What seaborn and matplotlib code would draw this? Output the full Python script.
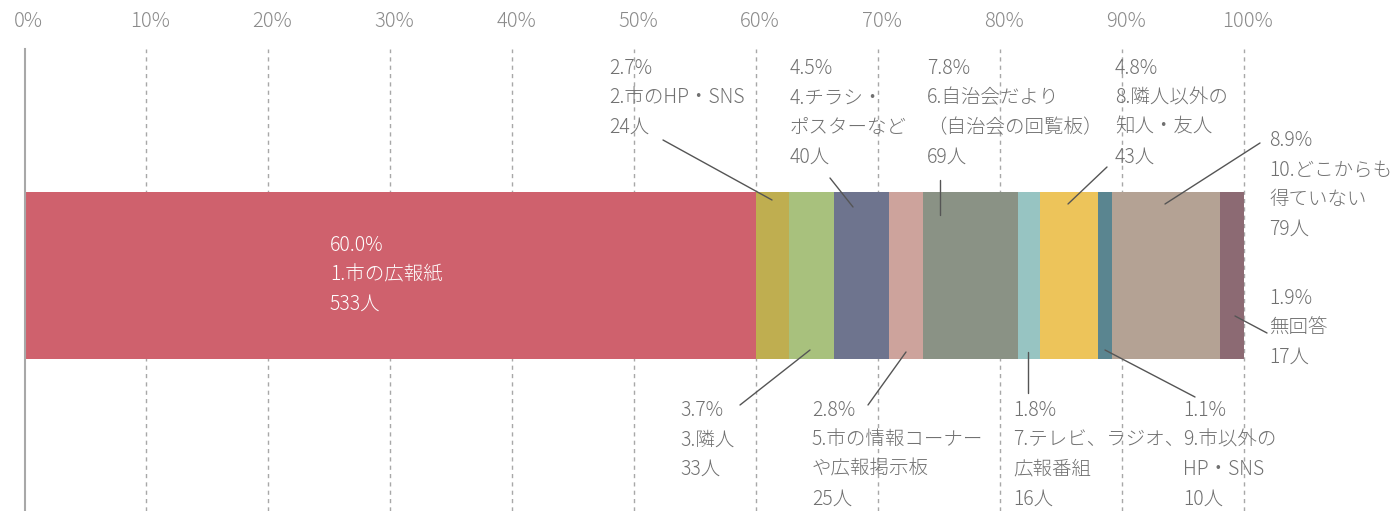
import matplotlib
matplotlib.use("Agg")
import matplotlib.pyplot as plt
import matplotlib.transforms as mtransforms
import seaborn as sns
import pandas as pd
import numpy as np

sns.set_theme(style="white")
plt.rcParams['font.family'] = ['Noto Sans CJK JP', 'DejaVu Sans']

# ---- data ----
categories = ["1.市の広報紙", "2.市のHP・SNS", "3.隣人", "4.チラシ・\nポスターなど",
              "5.市の情報コーナー\nや広報掲示板", "6.自治会だより\n（自治会の回覧板）",
              "7.テレビ、ラジオ、\n広報番組", "8.隣人以外の\n知人・友人", "9.市以外の\nHP・SNS",
              "10.どこからも\n得ていない", "無回答"]
percents = [60.0, 2.7, 3.7, 4.5, 2.8, 7.8, 1.8, 4.8, 1.1, 8.9, 1.9]
counts = [533, 24, 33, 40, 25, 69, 16, 43, 10, 79, 17]
colors = ["#CF616D", "#BFAE50", "#A8C17D", "#6E748E", "#CDA39C", "#8A9285",
          "#97C4C2", "#EDC45A", "#5A8590", "#B4A294", "#8C6A73"]
xticks = [0, 10, 20, 30, 40, 50, 60, 70, 80, 90, 100]
xticklabels = ["0%", "10%", "20%", "30%", "40%", "50%", "60%", "70%", "80%", "90%", "100%"]

W, H = 1392, 511
fig = plt.figure(figsize=(W / 100, H / 100), dpi=100)
ax_left, ax_right, ax_top, ax_bot = 24.5, 1243.5, 49, 511
ax = fig.add_axes([ax_left / W, 1 - ax_bot / H, (ax_right - ax_left) / W, (ax_bot - ax_top) / H])

df = pd.DataFrame({"cat": categories, "pct": percents, "n": counts})
df["cum"] = df["pct"].cumsum()

# stacked: draw cumulative totals, largest first
for i in range(len(df) - 1, -1, -1):
    sns.barplot(x=[df["cum"].iloc[i]], y=["all"], orient="h", color=colors[i],
                saturation=1, width=1.0, ax=ax, linewidth=0)

# vertical scale: bar 192..359 px
bar_top, bar_bot = 192, 359
ppu = bar_bot - bar_top
center = (bar_top + bar_bot) / 2
ax.set_ylim((ax_bot - center) / ppu, (ax_top - center) / ppu)
ax.set_xlim(0, 100)

def ypix(p):
    return (p - center) / ppu

def xpix(p):
    return (p - ax_left) / (ax_right - ax_left) * 100

# grid
for t in xticks[1:]:
    ax.axvline(t, color="#A8A8A8", lw=1, ls=(0, (3, 3)), zorder=0, clip_on=False)
for s in ["top", "right", "bottom"]:
    ax.spines[s].set_visible(False)
ax.spines["left"].set_color("#A8A8A8")
ax.spines["left"].set_linewidth(1.5)

ax.set_xticks(xticks)
ax.set_xticklabels(xticklabels)
ax.xaxis.tick_top()
ax.tick_params(axis="x", length=0, pad=12, labelsize=14.5, labelcolor="#8A8A8A")
offset = mtransforms.ScaledTranslation(4 / 100, 0, fig.dpi_scale_trans)
for lab in ax.get_xticklabels():
    lab.set_transform(lab.get_transform() + offset)
    lab.set_fontweight("light")
ax.set_yticks([])
ax.set_xlabel("")
ax.set_ylabel("")

tc = "#707070"
fs = 14
ls = 1.53

def label_text(i):
    return f"{percents[i]:.1f}%\n{categories[i]}\n{counts[i]}人"

# main label inside bar
ax.text(xpix(330), ypix(235), label_text(0), color="white", fontsize=fs,
        va="top", ha="left", linespacing=ls, fontweight="light")

# (index, text x px, text top px, line from px, line to px)
labels = [
    (1, 609, 58, (663, 140), (772, 200)),
    (3, 790, 58, (830, 178), (853, 207)),
    (5, 927, 58, (940, 180), (940, 215)),
    (7, 1115, 58, (1107, 167), (1068, 204)),
    (9, 1269, 130, (1260, 143), (1165, 204)),
    (10, 1269, 288, (1267, 333), (1235, 316)),
    (2, 680, 400, (740, 405), (810, 350)),
    (4, 812, 400, (868, 405), (906, 352)),
    (6, 1013, 400, (1028, 393), (1028, 352)),
    (8, 1183, 400, (1195, 397), (1105, 350)),
]
for i, tx, ty, p0, p1 in labels:
    ax.text(xpix(tx), ypix(ty), label_text(i), color=tc, fontsize=fs,
            va="top", ha="left", linespacing=ls, clip_on=False, fontweight="light")
    ax.plot([xpix(p0[0]), xpix(p1[0])], [ypix(p0[1]), ypix(p1[1])],
            color="#555555", lw=1, clip_on=False)

fig.savefig("out.png", dpi=100, facecolor="white")
